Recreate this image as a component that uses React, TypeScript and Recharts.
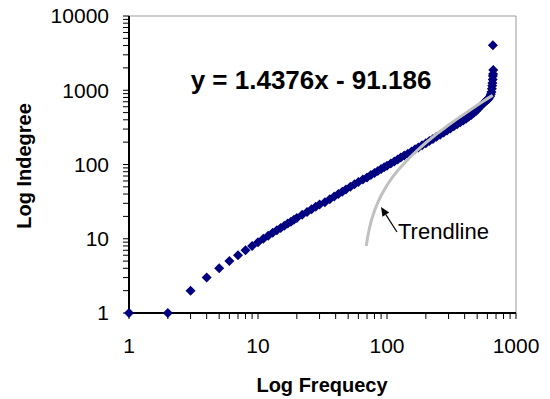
import React from 'react';
import { ScatterChart, Scatter, XAxis, YAxis, ReferenceLine, Customized } from 'recharts';

const frequency = [
  1, 2, 3, 4, 5, 6, 7, 8, 9, 10, 11, 12, 13, 14, 15, 16, 17, 18, 19, 20,
  22, 24, 26, 28, 30, 33, 36, 39, 42, 45, 48, 52, 56, 60, 65, 70, 75, 80, 85, 90,
  95, 100, 107, 114, 121, 128, 136, 145, 155, 165, 175, 187, 200, 213, 227, 242,
  258, 275, 292, 310, 330, 350, 370, 390, 410, 430, 450, 470, 490, 510, 530, 550,
  565, 580, 595, 610, 620, 630, 638, 645, 650, 654, 657, 660, 662, 664, 666, 662,
];
const indegree = [
  1, 1, 2, 3, 4, 5, 6, 7, 8, 9, 10, 11, 12, 13, 14, 15, 16, 17, 18, 19,
  21, 23, 25, 27, 29, 31, 34, 37, 40, 43, 46, 50, 54, 58, 63, 67, 72, 77, 82, 87,
  92, 96, 103, 110, 117, 124, 132, 140, 150, 160, 170, 181, 194, 207, 220, 236,
  252, 270, 287, 306, 327, 348, 370, 392, 414, 438, 464, 492, 525, 565, 610, 650,
  680, 710, 735, 760, 790, 830, 880, 950, 1050, 1150, 1250, 1400, 1550, 1650, 1870, 4040,
];

// Linear trendline y = 1.4376x - 91.186 (values as drawn)
const trendX = [69, 71, 73, 75, 77, 80, 85, 90, 100, 110, 125, 150, 175, 200, 250, 300, 350, 400, 450, 500, 550, 600, 660];
const trendY = [8.01, 10.88, 13.76, 16.63, 19.51, 23.82, 31.01, 38.2, 52.57, 66.95, 88.51, 124.45, 160.39, 196.33, 268.21, 340.09, 411.97, 483.85, 555.73, 627.61, 699.49, 771.37, 857.63];

const xTicks = [1, 2, 3, 4, 5, 6, 7, 8, 9, 10, 20, 30, 40, 50, 60, 70, 80, 90, 100, 200, 300, 400, 500, 600, 700, 800, 900, 1000];
const yTicks = [1, 2, 3, 4, 5, 6, 7, 8, 9, 10, 20, 30, 40, 50, 60, 70, 80, 90, 100, 200, 300, 400, 500, 600, 700, 800, 900, 1000,
  2000, 3000, 4000, 5000, 6000, 7000, 8000, 9000, 10000];

const equationText = 'y = 1.4376x - 91.186';
const trendLabel = 'Trendline';
const xTitle = 'Log Frequecy';
const yTitle = 'Log Indegree';

const points = frequency.map((f, i) => ({ x: f, y: indegree[i] }));
const trend = trendX.map((f, i) => ({ x: f, y: trendY[i] }));

const FONT = '"Liberation Sans", Arial, sans-serif';

const isDecade = (v: number) => Math.abs(Math.log10(v) - Math.round(Math.log10(v))) < 1e-9;

const XTick = (props: any) => {
  const { x, y, payload } = props;
  if (!isDecade(payload.value)) return <g />;
  return (
    <text x={x} y={y} dy="0.71em" textAnchor="middle" fontSize={21} fontFamily={FONT} fill="#000">
      {payload.value}
    </text>
  );
};

const YTick = (props: any) => {
  const { x, y, payload } = props;
  if (!isDecade(payload.value)) return <g />;
  return (
    <text x={x} y={y} dy="0.355em" textAnchor="end" fontSize={21} fontFamily={FONT} fill="#000">
      {payload.value}
    </text>
  );
};

const Diamond = (props: any) => {
  const { cx, cy } = props;
  if (cx == null || cy == null) return <g />;
  const r = 5;
  return <polygon points={`${cx},${cy - r} ${cx + r},${cy} ${cx},${cy + r} ${cx - r},${cy}`} fill="#000080" />;
};

const NoDot = () => <g />;

const Annotations = () => {
  const tip = { x: 381, y: 207 };
  const tail = { x: 397, y: 232 };
  const dx = tip.x - tail.x;
  const dy = tip.y - tail.y;
  const len = Math.hypot(dx, dy);
  const ux = dx / len;
  const uy = dy / len;
  const hl = 9;
  const hw = 4;
  const bx = tip.x - ux * hl;
  const by = tip.y - uy * hl;
  const p1 = `${bx - uy * hw},${by + ux * hw}`;
  const p2 = `${bx + uy * hw},${by - ux * hw}`;
  return (
    <g>
      <text x={311} y={89} textAnchor="middle" fontSize={26} fontWeight="bold" fontFamily={FONT} fill="#000">
        {equationText}
      </text>
      <line x1={tail.x} y1={tail.y} x2={bx} y2={by} stroke="#000" strokeWidth={1.2} />
      <polygon points={`${tip.x},${tip.y} ${p1} ${p2}`} fill="#000" />
      <text x={398} y={239} fontSize={22} fontFamily={FONT} fill="#000">
        {trendLabel}
      </text>
      <text x={322} y={392} textAnchor="middle" fontSize={20} fontWeight="bold" fontFamily={FONT} fill="#000">
        {xTitle}
      </text>
      <text
        x={31}
        y={166}
        textAnchor="middle"
        fontSize={20}
        fontWeight="bold"
        fontFamily={FONT}
        fill="#000"
        transform="rotate(-90 31 166)"
      >
        {yTitle}
      </text>
    </g>
  );
};

export default function App() {
  return (
    <div style={{ position: 'absolute', left: 0, top: 0, width: 550, height: 399, background: '#ffffff' }}>
      <ScatterChart width={550} height={399} margin={{ top: 16, right: 34, bottom: 46, left: 59 }}>
        <XAxis
          type="number"
          dataKey="x"
          scale="log"
          domain={[1, 1000]}
          ticks={xTicks}
          interval={0}
          height={40}
          tickSize={6}
          tickMargin={19}
          axisLine={{ stroke: '#000', strokeWidth: 2 }}
          tickLine={{ stroke: '#000', strokeWidth: 1 }}
          tick={<XTick />}
        />
        <YAxis
          type="number"
          dataKey="y"
          scale="log"
          domain={[1, 10000]}
          ticks={yTicks}
          interval={0}
          width={70}
          tickSize={6}
          tickMargin={14}
          axisLine={{ stroke: '#000', strokeWidth: 2 }}
          tickLine={{ stroke: '#000', strokeWidth: 1 }}
          tick={<YTick />}
        />
        <ReferenceLine y={10000} stroke="#999999" strokeWidth={1} />
        <ReferenceLine x={1000} stroke="#999999" strokeWidth={1} />
        <Scatter data={points} shape={<Diamond />} isAnimationActive={false} />
        <Scatter
          data={trend}
          shape={<NoDot />}
          line={{ stroke: '#c0c0c0', strokeWidth: 3 }}
          lineType="joint"
          isAnimationActive={false}
        />
        <Customized component={<Annotations />} />
      </ScatterChart>
    </div>
  );
}
